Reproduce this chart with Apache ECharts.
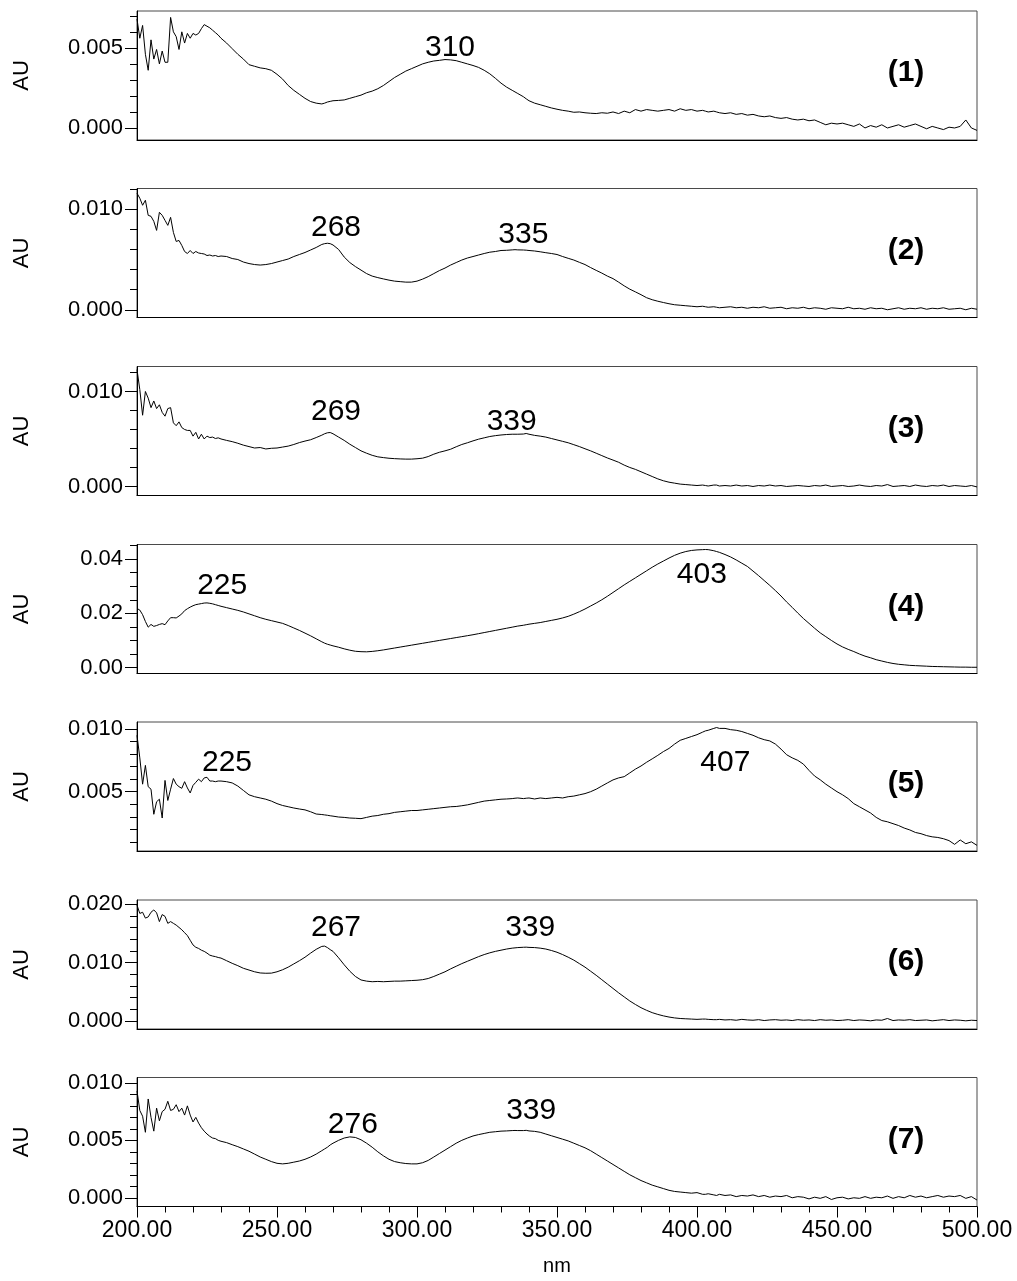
<!DOCTYPE html>
<html>
<head>
<meta charset="utf-8">
<script src="https://cdn.jsdelivr.net/npm/echarts@6/dist/echarts.min.js"></script>
<style>
  html, body { margin: 0; padding: 0; background: #fff; }
  #chart { width: 1017px; height: 1281px; }
</style>
</head>
<body>
<div id="chart"></div>
<script>
// Sampling wavelengths (nm): 1 nm steps through the noisy far-UV start, 2 nm after,
// plus the labelled band maxima.
const WAVELENGTH = [
  200,201,202,203,204,205,206,207,208,209,
  210,211,212,213,214,215,216,217,218,219,
  220,221,222,223,224,225,226,227,228,229,230,
  232,234,236,238,240,242,244,246,248,250,252,254,256,258,260,262,264,266,
  267,268,269,270,
  272,274,276,278,280,282,284,286,288,290,292,294,296,298,300,302,304,306,308,310,
  312,314,316,318,320,322,324,326,328,330,332,334,
  335,336,338,339,340,
  342,344,346,348,350,352,354,356,358,360,362,364,366,368,370,372,374,376,378,380,
  382,384,386,388,390,392,394,396,398,400,402,
  403,404,406,407,408,
  410,412,414,416,418,420,422,424,426,428,430,432,434,436,438,440,442,444,446,448,
  450,452,454,456,458,460,462,464,466,468,470,472,474,476,478,480,482,484,486,488,
  490,492,494,496,498,500
];

// Absorbance of each sample, in mAU, same order as WAVELENGTH.
const SPECTRUM_1 = [
  6.8,5.6,6.4,4.6,3.6,5.5,4.3,4.9,4.0,4.8,
  4.1,4.1,6.9,6.0,5.7,4.9,6.0,5.3,5.9,5.6,
  5.9,5.8,5.9,6.2,6.45,6.35,6.25,6.1,5.95,5.8,5.6,
  5.3,4.95,4.6,4.3,3.95,3.85,3.75,3.7,3.6,3.35,3.05,2.65,2.35,2.1,1.85,1.65,1.55,1.5,
  1.55,1.62,1.66,1.7,
  1.72,1.75,1.85,1.95,2.05,2.2,2.3,2.45,2.65,2.9,3.15,3.35,3.55,3.7,3.85,4.0,4.1,4.18,4.22,4.27,
  4.25,4.2,4.1,4.0,3.9,3.78,3.6,3.38,3.1,2.8,2.55,2.35,
  2.25,2.15,1.95,1.82,1.7,
  1.55,1.45,1.35,1.25,1.17,1.1,1.05,0.98,1.0,0.95,0.92,0.9,0.95,0.92,1.0,0.9,1.05,0.95,1.15,1.05,
  1.15,1.1,1.05,1.1,1.15,1.05,1.2,1.1,1.15,1.05,1.1,
  1.05,1.0,1.05,1.0,0.95,
  0.9,0.95,0.85,0.9,0.8,0.85,0.75,0.7,0.75,0.65,0.6,0.65,0.55,0.5,0.55,0.45,0.5,0.35,0.2,0.3,
  0.25,0.3,0.2,0.1,0.25,0.0,0.15,0.05,0.2,0.0,0.1,0.2,0.05,0.15,0.25,0.1,-0.05,0.1,0.0,-0.1,
  0.05,0.0,0.1,0.5,0.0,-0.15
];
const SPECTRUM_2 = [
  11.6,11.1,10.4,10.9,9.4,9.3,8.8,7.9,9.7,9.4,
  8.9,8.4,9.2,7.7,6.8,6.9,6.4,5.8,5.6,5.9,
  5.6,5.8,5.65,5.6,5.55,5.4,5.45,5.35,5.4,5.3,5.35,
  5.3,5.1,5.0,4.75,4.6,4.5,4.45,4.5,4.6,4.75,4.9,5.05,5.3,5.5,5.7,5.95,6.2,6.5,
  6.58,6.62,6.58,6.45,
  6.0,5.25,4.7,4.3,3.95,3.6,3.35,3.2,3.07,2.95,2.85,2.8,2.75,2.75,2.85,3.05,3.3,3.6,3.9,4.15,
  4.45,4.7,4.95,5.15,5.3,5.45,5.6,5.73,5.8,5.9,5.92,5.96,
  5.98,5.96,5.95,5.93,5.9,
  5.85,5.77,5.68,5.6,5.5,5.3,5.12,4.95,4.72,4.5,4.2,3.92,3.65,3.35,3.1,2.75,2.38,2.05,1.78,1.5,
  1.2,1.0,0.85,0.72,0.6,0.5,0.45,0.4,0.35,0.3,0.35,
  0.3,0.25,0.3,0.25,0.2,
  0.25,0.3,0.2,0.25,0.15,0.25,0.2,0.3,0.15,0.2,0.25,0.1,0.2,0.15,0.25,0.1,0.2,0.15,0.05,0.2,
  0.15,0.1,0.25,0.1,0.15,0.05,0.2,0.1,0.15,0.0,0.1,0.2,0.05,0.15,0.1,0.2,0.05,0.15,0.1,0.2,
  0.05,0.1,0.15,0.0,0.15,0.05
];
const SPECTRUM_3 = [
  12.3,10.2,7.5,10.0,9.3,8.3,9.0,8.2,8.6,7.8,
  7.4,8.2,8.3,6.7,6.4,6.8,6.2,6.0,5.9,5.9,
  5.3,5.7,5.0,5.5,5.0,5.3,5.15,5.2,5.05,5.12,5.0,
  4.85,4.72,4.55,4.35,4.2,4.05,4.1,3.95,4.02,4.05,4.15,4.25,4.42,4.62,4.78,4.92,5.15,5.4,
  5.55,5.65,5.68,5.55,
  5.2,4.85,4.45,4.1,3.75,3.5,3.28,3.12,3.04,2.97,2.93,2.9,2.88,2.88,2.92,2.98,3.15,3.4,3.6,3.75,
  3.92,4.18,4.42,4.6,4.8,4.98,5.12,5.26,5.35,5.42,5.47,5.5,
  5.5,5.5,5.52,5.58,5.5,
  5.38,5.3,5.2,5.05,4.9,4.75,4.6,4.4,4.2,3.97,3.75,3.5,3.25,3.0,2.78,2.55,2.25,2.0,1.8,1.55,
  1.3,1.05,0.8,0.6,0.45,0.35,0.25,0.2,0.15,0.1,0.15,
  0.1,0.05,0.15,0.15,0.05,
  0.1,0.05,0.15,0.05,0.1,0.0,0.1,0.05,0.15,0.05,0.1,0.0,0.05,0.1,0.05,0.0,0.1,0.05,0.15,0.0,
  0.05,0.1,0.0,0.05,0.15,0.05,0.0,0.1,0.05,0.2,0.0,0.05,0.1,0.0,0.15,0.05,0.0,0.1,0.05,0.15,
  0.0,0.1,0.05,0.0,0.1,-0.05
];
const SPECTRUM_4 = [
  21.8,21.2,19.5,17.0,14.9,15.9,15.2,15.5,15.9,16.2,
  15.8,17.2,18.4,18.4,18.3,19.0,19.8,21.0,21.7,22.3,
  22.8,23.2,23.4,23.6,23.8,23.85,23.7,23.5,23.2,22.9,22.6,
  22.1,21.6,21.1,20.5,19.8,19.1,18.4,17.8,17.3,16.8,16.3,15.5,14.6,13.7,12.7,11.7,10.6,9.5,
  9.0,8.6,8.3,8.0,
  7.5,6.9,6.4,6.0,5.85,5.8,5.95,6.2,6.5,6.85,7.2,7.55,7.9,8.25,8.6,8.95,9.3,9.65,10.0,10.35,
  10.7,11.05,11.4,11.75,12.1,12.5,12.9,13.3,13.7,14.1,14.5,14.9,
  15.1,15.3,15.6,15.8,16.0,
  16.3,16.6,17.0,17.4,17.8,18.3,18.9,19.7,20.6,21.6,22.7,23.8,25.0,26.3,27.7,29.1,30.5,31.8,33.1,34.4,
  35.7,37.0,38.2,39.3,40.4,41.4,42.2,42.8,43.2,43.4,43.5,
  43.55,43.5,43.1,42.8,42.5,
  41.7,40.8,39.7,38.5,37.3,35.6,33.9,32.1,30.3,28.4,26.4,24.2,22.2,20.1,18.1,16.3,14.5,12.8,11.4,10.0,
  8.7,7.6,6.7,5.9,5.0,4.2,3.6,2.9,2.4,1.9,1.5,1.2,1.0,0.8,0.7,0.6,0.5,0.4,0.35,0.3,
  0.25,0.2,0.15,0.15,0.1,0.1
];
const SPECTRUM_5 = [
  9.5,7.7,5.6,7.1,5.4,5.2,3.2,4.2,4.4,2.9,
  5.9,4.3,5.2,6.05,5.6,5.4,5.27,5.8,5.3,4.9,
  5.5,5.75,6.0,5.8,6.1,6.15,5.85,5.85,5.8,5.85,5.85,
  5.8,5.7,5.45,5.1,4.75,4.6,4.5,4.4,4.25,4.05,3.9,3.8,3.7,3.62,3.55,3.4,3.22,3.18,
  3.15,3.12,3.08,3.05,
  2.98,2.95,2.9,2.88,2.85,2.95,3.05,3.1,3.2,3.25,3.35,3.4,3.45,3.5,3.5,3.55,3.6,3.65,3.7,3.75,
  3.8,3.82,3.88,3.95,4.05,4.15,4.25,4.3,4.35,4.4,4.42,4.45,
  4.48,4.5,4.45,4.48,4.5,
  4.42,4.5,4.45,4.5,4.55,4.5,4.6,4.65,4.75,4.85,5.0,5.2,5.45,5.7,5.94,6.1,6.2,6.5,6.8,7.05,
  7.35,7.62,7.9,8.2,8.45,8.8,9.1,9.25,9.4,9.55,9.75,
  9.85,9.9,10.05,10.12,10.05,
  10.05,9.95,9.9,9.8,9.65,9.5,9.3,9.15,9.05,8.8,8.4,7.95,7.7,7.5,7.2,6.7,6.25,5.95,5.6,5.3,
  5.0,4.75,4.45,4.05,3.8,3.55,3.3,2.95,2.7,2.6,2.45,2.3,2.1,1.95,1.75,1.65,1.5,1.4,1.35,1.25,
  1.1,0.8,1.15,0.85,1.0,0.72
];
const SPECTRUM_6 = [
  19.8,18.4,18.6,17.6,17.8,18.6,19.0,18.5,17.0,18.2,
  17.9,16.7,17.0,16.7,16.4,16.0,15.6,15.1,14.6,13.8,
  13.0,12.6,12.4,12.1,11.9,11.6,11.25,11.1,11.0,10.85,10.75,
  10.3,9.85,9.45,9.0,8.7,8.4,8.2,8.15,8.17,8.4,8.75,9.2,9.75,10.3,10.9,11.6,12.25,12.75,
  12.8,12.55,12.2,11.9,
  10.8,9.6,8.5,7.6,7.0,6.8,6.7,6.75,6.7,6.75,6.8,6.8,6.85,6.9,6.95,7.05,7.25,7.6,8.0,8.4,
  8.9,9.35,9.8,10.2,10.6,11.0,11.35,11.65,11.9,12.1,12.3,12.45,
  12.5,12.55,12.6,12.62,12.58,
  12.55,12.45,12.3,12.05,11.75,11.35,10.9,10.4,9.8,9.2,8.5,7.8,7.05,6.3,5.55,4.8,4.1,3.4,2.8,2.25,
  1.8,1.4,1.1,0.85,0.65,0.5,0.4,0.35,0.3,0.25,0.3,
  0.3,0.25,0.2,0.2,0.25,
  0.15,0.2,0.1,0.25,0.15,0.1,0.2,0.05,0.15,0.2,0.1,0.15,0.05,0.2,0.1,0.15,0.05,0.2,0.1,0.15,
  0.05,0.1,0.2,0.05,0.15,0.1,0.0,0.15,0.1,0.4,0.05,0.15,0.1,0.2,0.05,0.1,0.15,0.0,0.1,0.2,
  0.05,0.15,0.1,0.0,0.1,0.05
];
const SPECTRUM_7 = [
  9.3,7.6,7.1,5.7,8.6,7.0,5.8,7.8,6.7,7.5,
  7.7,8.4,7.6,7.7,8.1,7.5,7.8,7.2,8.0,7.2,
  6.6,7.0,6.5,6.1,5.8,5.55,5.35,5.2,5.15,5.0,4.92,
  4.8,4.62,4.45,4.25,4.05,3.8,3.55,3.35,3.15,3.0,2.95,3.0,3.1,3.2,3.35,3.55,3.8,4.1,
  4.25,4.4,4.6,4.75,
  5.0,5.2,5.3,5.25,5.05,4.75,4.4,4.0,3.65,3.35,3.15,3.05,2.98,2.95,2.95,3.05,3.25,3.55,3.85,4.15,
  4.45,4.75,5.0,5.2,5.38,5.5,5.6,5.7,5.75,5.8,5.82,5.85,
  5.86,5.85,5.85,5.87,5.82,
  5.78,5.7,5.55,5.4,5.25,5.1,4.95,4.75,4.55,4.35,4.1,3.8,3.5,3.2,2.9,2.6,2.3,2.0,1.75,1.5,
  1.3,1.1,0.95,0.8,0.65,0.55,0.5,0.45,0.4,0.45,0.3,
  0.3,0.35,0.25,0.2,0.3,
  0.2,0.25,0.1,0.2,0.15,0.25,0.1,0.2,0.05,0.15,0.1,0.2,0.0,0.1,0.05,-0.1,0.05,-0.05,0.1,-0.15,
  0.0,0.05,-0.1,0.0,-0.05,0.1,-0.05,0.05,0.0,0.15,-0.05,0.1,0.0,0.2,0.05,0.15,0.0,0.1,0.2,0.05,
  0.15,0.1,0.2,-0.05,0.1,-0.2
];
const SPECTRA = [SPECTRUM_1, SPECTRUM_2, SPECTRUM_3, SPECTRUM_4, SPECTRUM_5, SPECTRUM_6, SPECTRUM_7];

// Band maxima annotated in each panel (nm).
const PEAKS = [[310], [268, 335], [269, 339], [225, 403], [225, 407], [267, 339], [276, 339]];
const PANEL_NAMES = ['(1)', '(2)', '(3)', '(4)', '(5)', '(6)', '(7)'];

// Absorbance axes (AU).
const Y_MIN = [-0.00075, -0.00077, -0.00095, -0.0022, 0.00027, -0.0014, -0.00076];
const Y_MAX = [0.0073, 0.01207, 0.01263, 0.0454, 0.01056, 0.0207, 0.01047];
const Y_TICK_LABELS = [[0, 0.005], [0, 0.01], [0, 0.01], [0, 0.02, 0.04], [0.005, 0.01], [0, 0.01, 0.02], [0, 0.005, 0.01]];
const Y_MINOR_TICKS = [
  [0.001, 0.002, 0.003, 0.004, 0.006, 0.007],
  [0.002, 0.004, 0.006, 0.008, 0.012],
  [0.002, 0.004, 0.006, 0.008, 0.012],
  [0.005, 0.01, 0.015, 0.025, 0.03, 0.035, 0.045],
  [0.001, 0.002, 0.003, 0.004, 0.006, 0.007, 0.008, 0.009],
  [0.002, 0.004, 0.006, 0.008, 0.012, 0.014, 0.016, 0.018],
  [0.001, 0.002, 0.003, 0.004, 0.006, 0.007, 0.008, 0.009]
];
const Y_DECIMALS = [3, 3, 3, 2, 3, 3, 3];

// Wavelength axis (nm).
const X_MIN = 200, X_MAX = 500, X_STEP = 50;

// ---- layout ----
const FONT = '"Liberation Sans", Arial, Helvetica, sans-serif';
const PLOT_LEFT = 137, PLOT_WIDTH = 840, PANEL_HEIGHT = 129;
const PANEL_TOP = [11, 188.5, 366.5, 544.5, 722, 900, 1077.5];
// pixel offsets of each band label from its maximum
const PEAK_LABEL_OFFSET = [
  [[5, -12]],
  [[8.6, -15.3], [8.3, -14.8]],
  [[5.8, -21], [-14.5, -11.4]],
  [[15.2, -17.3], [-3.6, 25]],
  [[20, -15], [8.7, 35.4]],
  [[11.4, -18.3], [4, -19]],
  [[3, -12.6], [5, -20]]
];

SPECTRA.forEach((s, i) => {
  if (s.length !== WAVELENGTH.length) throw new Error('spectrum ' + (i + 1) + ' has ' + s.length + ' points');
});

const chart = echarts.init(document.getElementById('chart'), null, { renderer: 'canvas' });

const grid = [], xAxis = [], yAxis = [], series = [], graphic = [];
const axisBlack = { color: '#000', width: 1 };

SPECTRA.forEach((spec, i) => {
  const last = i === SPECTRA.length - 1;
  grid.push({
    left: PLOT_LEFT, width: PLOT_WIDTH, top: PANEL_TOP[i], height: PANEL_HEIGHT,
    show: true, borderColor: '#4a4a4a', borderWidth: 1, backgroundColor: 'transparent',
    outerBoundsMode: 'none'
  });
  xAxis.push({
    gridIndex: i, type: 'value', min: X_MIN, max: X_MAX, interval: X_STEP,
    axisLine: { show: true, onZero: false, lineStyle: axisBlack },
    axisTick: { show: last, length: 11, lineStyle: axisBlack },
    minorTick: { show: last, splitNumber: 5, length: 6, lineStyle: axisBlack },
    axisLabel: { show: last, margin: 13, fontSize: 23, fontFamily: FONT, color: '#000',
                 formatter: v => v.toFixed(2) },
    splitLine: { show: false }, minorSplitLine: { show: false },
    name: last ? 'nm' : '', nameLocation: 'middle', nameGap: 50,
    nameTextStyle: { fontSize: 20, fontFamily: FONT, color: '#000' }
  });
  // labelled ticks
  yAxis.push({
    gridIndex: i, type: 'value', position: 'left', min: Y_MIN[i], max: Y_MAX[i],
    axisLine: { show: true, onZero: false, lineStyle: axisBlack },
    axisTick: { show: true, length: 12, lineStyle: axisBlack, customValues: Y_TICK_LABELS[i] },
    axisLabel: { show: true, margin: 14, fontSize: 22, fontFamily: FONT, color: '#000',
                 customValues: Y_TICK_LABELS[i], formatter: v => v.toFixed(Y_DECIMALS[i]) },
    splitLine: { show: false }
  });
  // short unlabelled ticks
  yAxis.push({
    gridIndex: i, type: 'value', position: 'left', offset: 0, min: Y_MIN[i], max: Y_MAX[i],
    axisLine: { show: false },
    axisTick: { show: true, length: 7, lineStyle: axisBlack, customValues: Y_MINOR_TICKS[i] },
    axisLabel: { show: false },
    splitLine: { show: false }
  });

  const points = WAVELENGTH.map((w, k) => [w, spec[k] / 1000]);
  series.push({
    type: 'line', xAxisIndex: i, yAxisIndex: 2 * i, data: points,
    symbol: 'none', showSymbol: false, silent: true, clip: true,
    lineStyle: { color: '#000', width: 1 }
  });
  series.push({
    type: 'scatter', xAxisIndex: i, yAxisIndex: 2 * i, silent: true,
    symbolSize: 0, itemStyle: { opacity: 0 },
    data: PEAKS[i].map((w, k) => ({
      name: String(w),
      value: [w, spec[WAVELENGTH.indexOf(w)] / 1000],
      label: { offset: PEAK_LABEL_OFFSET[i][k] }
    })),
    label: {
      show: true, position: 'inside', formatter: p => p.name,
      fontSize: 30, fontFamily: FONT, color: '#000', opacity: 1
    }
  });

  graphic.push({
    type: 'text', x: 906, y: PANEL_TOP[i] + 62, silent: true,
    style: { text: PANEL_NAMES[i], fill: '#000', font: 'bold 30px ' + FONT,
             align: 'center', verticalAlign: 'middle' }
  });
  graphic.push({
    type: 'text', x: 22, y: PANEL_TOP[i] + PANEL_HEIGHT / 2, rotation: Math.PI / 2, silent: true,
    style: { text: 'AU', fill: '#000', font: '22px ' + FONT,
             align: 'center', verticalAlign: 'middle' }
  });
});

chart.setOption({
  animation: false,
  backgroundColor: '#fff',
  grid, xAxis, yAxis, series, graphic
});
</script>
</body>
</html>
